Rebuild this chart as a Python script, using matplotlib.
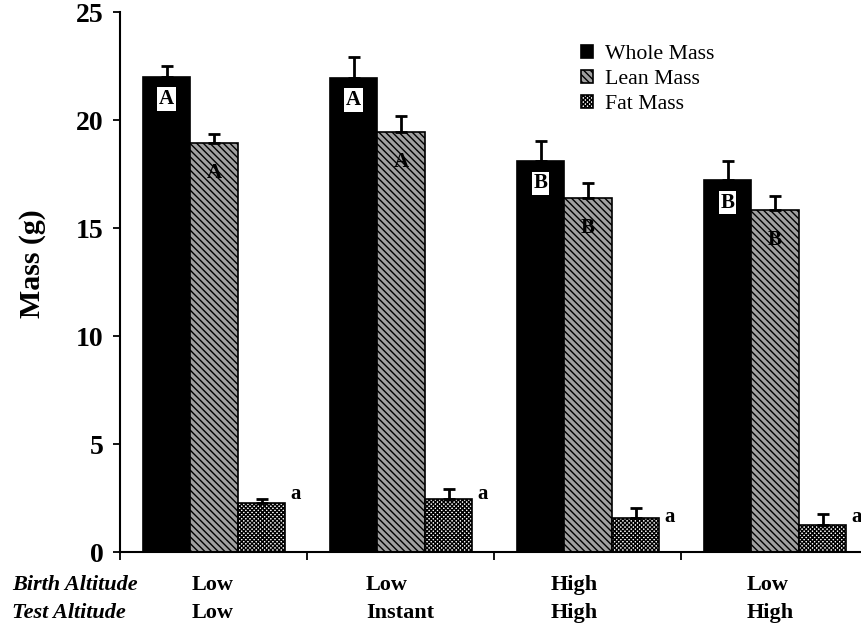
import numpy as np
import matplotlib.pyplot as plt
from matplotlib.transforms import blended_transform_factory

plt.rcParams['font.family'] = ['Liberation Serif', 'DejaVu Serif']
plt.rcParams['hatch.linewidth'] = 1.0

# data
birth = ["Low", "Low", "High", "Low"]
test = ["Low", "Instant", "High", "High"]
whole = [22.0, 21.95, 18.1, 17.2]
whole_err = [0.5, 0.95, 0.95, 0.9]
lean = [18.95, 19.45, 16.4, 15.85]
lean_err = [0.4, 0.75, 0.7, 0.65]
fat = [2.27, 2.45, 1.57, 1.25]
fat_err = [0.18, 0.47, 0.47, 0.51]
whole_letters = ["A", "A", "B", "B"]
lean_letters = ["A", "A", "B", "B"]
fat_letters = ["a", "a", "a", "a"]
fat_letter_y = [2.68, 2.68, 1.62, 1.62]
label_off = [0.385, 0.316, 0.305, 0.35]

fig = plt.figure(figsize=(8.61, 6.25), dpi=100)
ax = fig.add_axes([120 / 861, 73 / 625, 748 / 861, 540 / 625])

x = np.arange(4)
w = 0.254
off = 0.122
xw = x + off + w / 2
xl = xw + w
xf = xl + w

ax.bar(xw, whole, w, color='black', edgecolor='black', linewidth=1.2, label='Whole Mass')
ax.bar(xl, lean, w, color='#a0a0a0', edgecolor='black', linewidth=1.2,
       hatch='\\\\\\\\\\', label='Lean Mass')
ax.bar(xf, fat, w, color='white', edgecolor='black', linewidth=1.2,
       hatch='xxxxxxxx', label='Fat Mass')

for xs, ys, es in [(xw, whole, whole_err), (xl, lean, lean_err), (xf, fat, fat_err)]:
    ax.errorbar(xs, ys, yerr=[np.zeros(4), es], fmt='none', ecolor='black',
                elinewidth=2, capsize=4, capthick=2)

for i in range(4):
    ax.text(xw[i], whole[i] - 1.03, whole_letters[i], ha='center', va='center',
            fontsize=15, fontweight='bold',
            bbox=dict(facecolor='white', edgecolor='none', pad=1.2))
    ax.text(xl[i], lean[i] - 1.4, lean_letters[i], ha='center', va='center',
            fontsize=15, fontweight='bold')
    ax.text(xf[i] + w / 2 + 0.025, fat_letter_y[i], fat_letters[i], ha='left',
            va='center', fontsize=15, fontweight='bold')

ax.set_xlim(0, 4)
ax.set_ylim(0, 25)
ax.set_yticks([0, 5, 10, 15, 20, 25])
ax.set_xticks([0, 1, 2, 3, 4])
ax.set_xticklabels([])
ax.tick_params(axis='y', labelsize=20, width=1.3, length=5, pad=7, direction='out')
ax.tick_params(axis='x', width=1.3, length=6, direction='out')
for lab in ax.get_yticklabels():
    lab.set_fontweight('bold')
ax.spines['top'].set_visible(False)
ax.spines['right'].set_visible(False)
ax.spines['left'].set_linewidth(1.5)
ax.spines['bottom'].set_linewidth(1.5)

fig.text(33 / 861, 1 - 264 / 625, 'Mass (g)', rotation=90, ha='center', va='center',
         fontsize=21.5, fontweight='bold')

ax.legend(loc='upper left', bbox_to_anchor=(0.59, 0.975), frameon=False, fontsize=15.7,
          handlelength=0.55, handleheight=0.55, handletextpad=0.55, labelspacing=0.25)

trans = blended_transform_factory(ax.transData, fig.transFigure)
fig.text(12 / 861, 1 - 585 / 625, 'Birth Altitude', ha='left', va='center',
         fontsize=16, fontweight='bold', style='italic')
fig.text(12 / 861, 1 - 613 / 625, 'Test Altitude', ha='left', va='center',
         fontsize=16, fontweight='bold', style='italic')
for i in range(4):
    ax.text(x[i] + label_off[i], 1 - 585 / 625, birth[i], transform=trans, ha='left',
            va='center', fontsize=16, fontweight='bold')
    ax.text(x[i] + label_off[i], 1 - 613 / 625, test[i], transform=trans, ha='left',
            va='center', fontsize=16, fontweight='bold')

fig.savefig('out.png', dpi=100)
